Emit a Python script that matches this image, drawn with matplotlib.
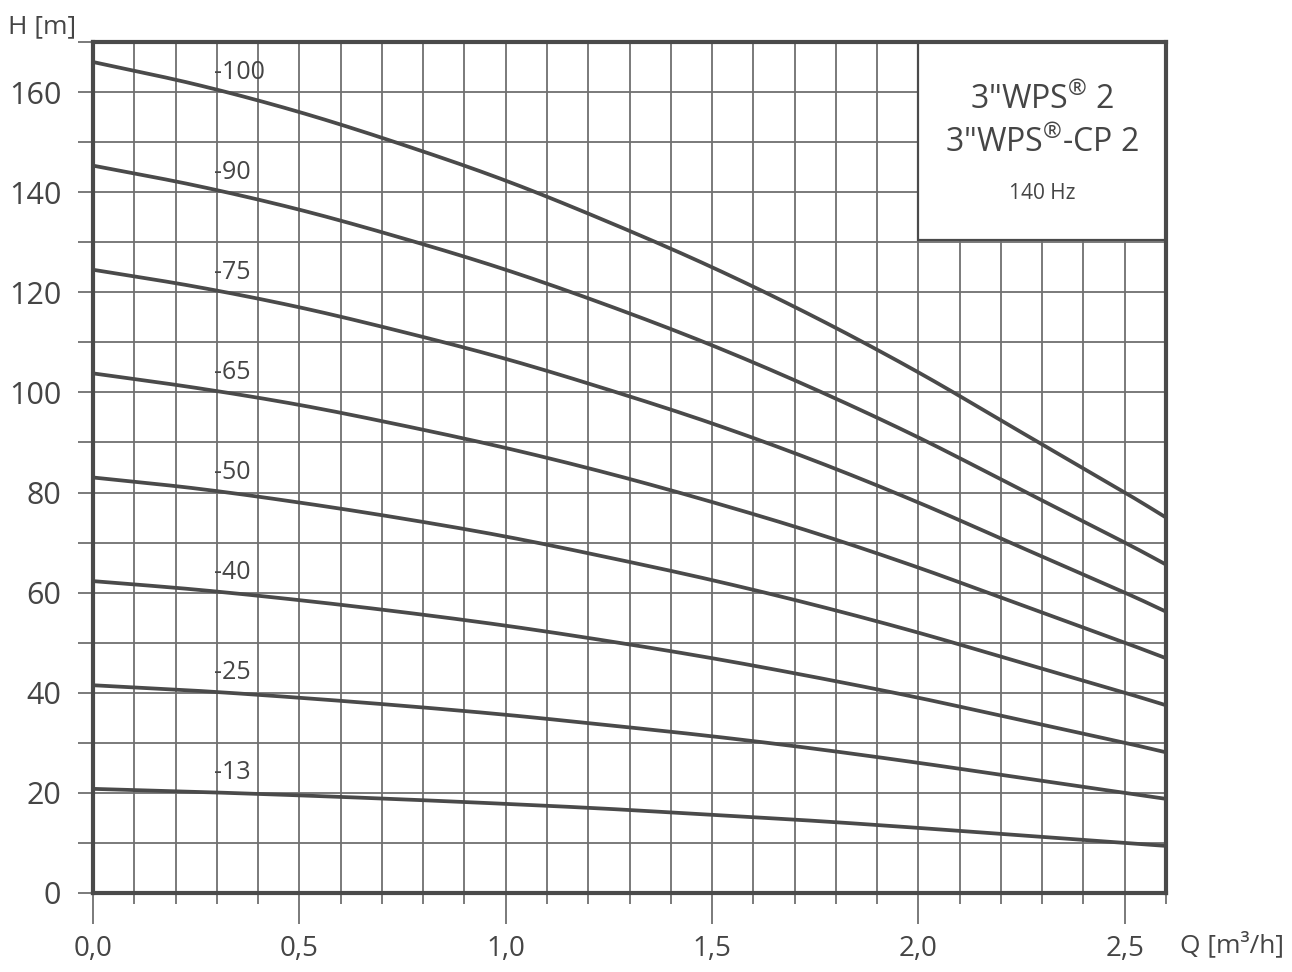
import matplotlib
matplotlib.use("Agg")
import numpy as np
import matplotlib.pyplot as plt
from matplotlib.patches import Rectangle
from matplotlib.ticker import MultipleLocator

plt.rcParams['font.family'] = ['Open Sans', 'DejaVu Sans']
plt.rcParams['mathtext.fontset'] = 'custom'
plt.rcParams['mathtext.rm'] = 'Open Sans'

q = [0.0, 0.25, 0.5, 0.75, 1.0, 1.25, 1.5, 1.75, 2.0, 2.25, 2.5, 2.6]
h_100 = [166.0, 161.5, 156.0, 149.5, 142.3, 134.0, 125.0, 115.0, 104.0, 92.0, 80.0, 75.0]
h_90 = [145.3, 141.3, 136.5, 130.8, 124.5, 117.3, 109.4, 100.6, 91.0, 80.5, 70.0, 65.6]
h_75 = [124.5, 121.1, 117.0, 112.1, 106.7, 100.5, 93.8, 86.3, 78.0, 69.0, 60.0, 56.2]
h_65 = [103.8, 100.9, 97.5, 93.4, 88.9, 83.8, 78.1, 71.9, 65.0, 57.5, 50.0, 46.9]
h_50 = [83.0, 80.8, 78.0, 74.8, 71.2, 67.0, 62.5, 57.5, 52.0, 46.0, 40.0, 37.5]
h_40 = [62.3, 60.6, 58.5, 56.1, 53.4, 50.3, 46.9, 43.1, 39.0, 34.5, 30.0, 28.1]
h_25 = [41.5, 40.4, 39.0, 37.4, 35.6, 33.5, 31.3, 28.8, 26.0, 23.0, 20.0, 18.8]
h_13 = [20.8, 20.2, 19.5, 18.7, 17.8, 16.8, 15.6, 14.4, 13.0, 11.5, 10.0, 9.4]

curves = [h_100, h_90, h_75, h_65, h_50, h_40, h_25, h_13]
curve_labels = ["-100", "-90", "-75", "-65", "-50", "-40", "-25", "-13"]
label_h = [164, 144, 124, 104, 84, 64, 44, 24]

x_ticks = [0.0, 0.5, 1.0, 1.5, 2.0, 2.5]
x_tick_labels = ["0,0", "0,5", "1,0", "1,5", "2,0", "2,5"]
y_ticks = [0, 20, 40, 60, 80, 100, 120, 140, 160]

title_lines = [r'3"WPS$^{\mathrm{®}}$ 2', r'3"WPS$^{\mathrm{®}}$-CP 2', '140 Hz']

dark = '#4a4a4a'
text_c = '#454545'


def smooth(xs, ys, n=20):
    """Catmull-Rom drawing path through the read points."""
    xs = np.asarray(xs, float)
    ys = np.asarray(ys, float)
    px = np.concatenate([[2 * xs[0] - xs[1]], xs, [2 * xs[-1] - xs[-2]]])
    py = np.concatenate([[2 * ys[0] - ys[1]], ys, [2 * ys[-1] - ys[-2]]])
    outx, outy = [], []
    t = np.linspace(0, 1, n, endpoint=False)
    for i in range(1, len(px) - 2):
        for arr, out in ((px, outx), (py, outy)):
            p0, p1, p2, p3 = arr[i - 1], arr[i], arr[i + 1], arr[i + 2]
            out.extend(0.5 * ((2 * p1) + (-p0 + p2) * t + (2 * p0 - 5 * p1 + 4 * p2 - p3) * t ** 2
                              + (-p0 + 3 * p1 - 3 * p2 + p3) * t ** 3))
    outx.append(xs[-1])
    outy.append(ys[-1])
    return outx, outy


fig = plt.figure(figsize=(12.92, 9.72), dpi=100)
ax = fig.add_axes([0.072, 0.0813, 0.8305, 0.8755])
ax.set_xlim(0, 2.6)
ax.set_ylim(0, 170)

ax.xaxis.set_minor_locator(MultipleLocator(0.1))
ax.yaxis.set_minor_locator(MultipleLocator(10))
ax.grid(which='both', color='#707070', linewidth=1.3)
ax.set_axisbelow(True)

for hs in curves:
    sx, sy = smooth(q, hs)
    ax.plot(sx, sy, color=dark, linewidth=2.7, zorder=3)

for lab, lh in zip(curve_labels, label_h):
    ax.text(0.293, lh, lab, fontsize=18, color=text_c, ha='left', va='center', zorder=4)

ax.add_patch(Rectangle((2.0, 130.4), 0.6, 39.6, facecolor='white', edgecolor=dark,
                       linewidth=1.6, zorder=5))
ax.text(2.3, 158.4, title_lines[0], fontsize=23, color=text_c, ha='center', va='center', zorder=6)
ax.text(2.3, 149.8, title_lines[1], fontsize=23, color=text_c, ha='center', va='center', zorder=6)
ax.text(2.3, 139.8, title_lines[2], fontsize=15, color=text_c, ha='center', va='center', zorder=6)

for s in ax.spines.values():
    s.set_color(dark)
    s.set_linewidth(3)
    s.set_zorder(7)

ax.set_xticks(x_ticks)
ax.set_xticklabels(x_tick_labels)
ax.set_yticks(y_ticks)
ax.tick_params(axis='x', which='major', length=22, width=1.3, color='#707070',
               labelsize=20, labelcolor=text_c, pad=8)
ax.tick_params(axis='x', which='minor', length=8, width=1.3, color='#707070')
ax.tick_params(axis='y', which='both', length=11, width=1.3, color='#707070',
               labelsize=22, labelcolor=text_c, pad=12)

fig.text(0.006, 0.972, 'H [m]', fontsize=19, color=text_c, ha='left', va='center')
fig.text(0.994, 0.028, 'Q [m³/h]', fontsize=19, color=text_c, ha='right', va='center')

fig.savefig('out.png', dpi=100)
